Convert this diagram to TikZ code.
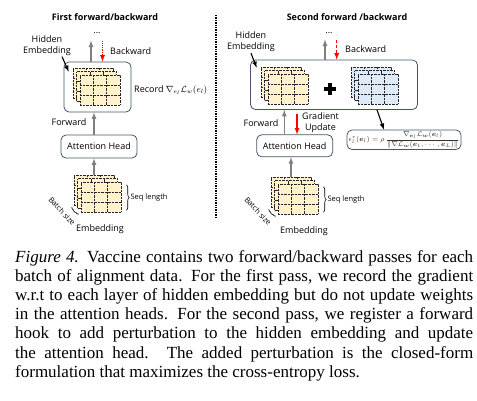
\documentclass[tikz,border=0pt]{standalone}
\usepackage{amsmath, amssymb}
\usepackage[no-math]{fontspec}
\setmainfont{Open Sans}
\newfontfamily\capfont{Liberation Serif}
\usetikzlibrary{arrows}
\usetikzlibrary{calc}
\usetikzlibrary{decorations.pathreplacing}

\definecolor{boxline}{HTML}{44546A}
\definecolor{layeryel}{HTML}{FFF2CC}
\definecolor{layerblue}{HTML}{DEEBF7}
\definecolor{arrowgray}{HTML}{7F7F7F}

\tikzset{
  lbl/.style={font=\fontsize{9}{11}\selectfont, align=center, inner sep=1pt},
  ttl/.style={font=\fontsize{9}{11}\selectfont\bfseries, inner sep=1pt},
  small/.style={font=\fontsize{7.5}{9}\selectfont, inner sep=1pt},
  block/.style={draw=boxline, rounded corners=5pt, line width=0.8pt, inner sep=0pt},
  celldots/.style={line width=0.55pt, dash pattern=on 0.7pt off 0.7pt},
  gridcells/.style={path picture={
      \foreach \t in {0.333,0.667} {
        \draw[celldots]
          ($(path picture bounding box.north west)!\t!(path picture bounding box.north east)$) --
          ($(path picture bounding box.south west)!\t!(path picture bounding box.south east)$)
          ($(path picture bounding box.north west)!\t!(path picture bounding box.south west)$) --
          ($(path picture bounding box.north east)!\t!(path picture bounding box.south east)$);
      }}},
  layer/.style={draw=black!85, celldots, minimum width=40pt,
    minimum height=30pt, inner sep=0pt, gridcells},
  fwd/.style={->, draw=arrowgray, line width=1.2pt},
  bwd/.style={->, draw=red, line width=1.2pt},
  ptr/.style={->, line width=1.1pt},
  brace/.style={decorate, decoration={brace, amplitude=3pt}, line width=0.6pt},
  divider/.style={densely dotted, line width=1.4pt},
}

% three stacked layers: name, centre of front layer, fill
\newcommand{\embstack}[3]{%
  \foreach \d/\k in {7/a,3.5/b,0/c}
    \node[layer, fill=#3] (#1\k) at ($(#2)+(-\d,-\d)$) {};
}

\begin{document}
\begin{tikzpicture}[x=1pt, y=-1pt, >=latex]
\useasboundingbox (0,0) rectangle (477,400);

% first pass
\node[ttl] (titleL) at (105,17) {First forward/backward};
\node[lbl] (dotsL) at (97,33) {...};
\node[lbl] (hidlabL) at (47,45.5) {Hidden\\Embedding};
\node[lbl, anchor=west] (backL) at (109,51) {Backward};
\node[block, minimum width=67pt, minimum height=50pt] (hidL) at (97.5,87) {};
\embstack{lh}{100,90}{layeryel}
\node[lbl, anchor=west] (recL) at (133,90) {Record $\nabla_{e_l}\mathcal{L}_w(e_l)$};
\node[lbl] (fwdL) at (69,122.5) {Forward};
\node[block, lbl, minimum width=76pt, minimum height=23pt] (attL) at (99,146.5) {Attention Head};
\embstack{le}{101,197}{layeryel}
\node[lbl] (embL) at (100,229) {Embedding};
\node[small, rotate=-47] (batchL) at (62,211) {Batch size};

\draw[fwd] ([xshift=-6.5pt]hidL.north) -- ++(0,-21);
\draw[bwd, densely dotted] ([xshift=5pt]hidL.north) ++(0,-21) -- ([xshift=5pt]hidL.north);
\draw[ptr] ($(hidlabL.south)!0.6!(hidlabL.south east)$) -- ([shift={(-4,4)}]lha.north west);
\draw[fwd] ([xshift=-5pt]attL.north) -- ([xshift=-5pt]attL.north |- hidL.south);
\draw[fwd] (lea.north) -- (lea.north |- attL.south);
\draw[brace] ([xshift=5pt,yshift=-3pt]lec.north east) -- ([xshift=5pt,yshift=2pt]lec.south east)
  node[midway, right=3pt, small] (seqL) {Seq length};
\draw[brace, decoration={amplitude=1.5pt}] ([shift={(-2,2)}]lec.south west) -- ([shift={(-2,2)}]lea.south west);

% divider
\draw[divider] (216,15) -- (216,218);

% second pass
\node[ttl] (titleR) at (347,17) {Second forward /backward};
\node[lbl] (dotsR) at (329,33) {...};
\node[lbl] (hidlabR) at (251,42) {Hidden\\Embedding};
\node[lbl, anchor=west] (backR) at (344,49) {Backward};
\node[block, minimum width=167pt, minimum height=49.5pt] (hidR) at (334,84.75) {};
\embstack{rh}{288,89}{layeryel}
\embstack{rb}{378,89}{layerblue}
\node[inner sep=0pt, minimum size=12pt] (plusR) at (330,89) {};
\draw[line width=3.6pt] (plusR.west) -- (plusR.east) (plusR.north) -- (plusR.south);
\node[block, minimum width=114pt, minimum height=19.5pt, text=black!80,
  font=\fontsize{7}{8}\selectfont] (formula) at (404,139.75)
  {$\epsilon^{*}_{l}(\boldsymbol{e}_l)=\rho\,\dfrac{\nabla_{\boldsymbol{e}_l}\mathcal{L}_{\boldsymbol{w}}(\boldsymbol{e}_l)}{\|\nabla\mathcal{L}_{\boldsymbol{w}}(\boldsymbol{e}_1,\cdots,\boldsymbol{e}_L)\|}$};
\node[lbl] (fwdR) at (261,123) {Forward};
\node[lbl] (gradR) at (320.5,122.5) {Gradient\\Update};
\node[block, lbl, minimum width=76pt, minimum height=22pt] (attR) at (294.7,145.8) {Attention Head};
\embstack{re}{298,199}{layeryel}
\node[lbl] (embR) at (304,231) {Embedding};
\node[small, rotate=-47] (batchR) at (258,211) {Batch size};

\draw[fwd] ([xshift=-9pt]hidR.north) -- ++(0,-20);
\draw[bwd, densely dashed] ([xshift=2.7pt]hidR.north) ++(0,-20) -- ([xshift=2.7pt]hidR.north);
\draw[ptr] (hidlabR.south) -- ([shift={(-4,1)}]rha.north west);
\draw[ptr] ([xshift=43pt]hidR.south) -- ([xshift=-20pt]formula.north);
\draw[fwd] ([xshift=-10.4pt]attR.north) -- ([xshift=-10.4pt]attR.north |- hidR.south);
\draw[bwd] ([xshift=2.3pt]attR.north) ++(0,-20) -- ([xshift=2.3pt]attR.north);
\draw[fwd] (rea.north) -- (rea.north |- attR.south);
\draw[brace] ([xshift=5pt,yshift=-3pt]rec.north east) -- ([xshift=5pt,yshift=2pt]rec.south east)
  node[midway, right=3pt, small] (seqR) {Seq length};
\draw[brace, decoration={amplitude=1.5pt}] ([shift={(-2,2)}]rec.south west) -- ([shift={(-2,2)}]rea.south west);

% caption
\node[anchor=base west, text width=458pt, inner sep=0pt, align=justify,
  font=\capfont\fontsize{17}{19.2}\selectfont] (caption) at (15,262)
  {\textit{Figure 4.} Vaccine contains two forward/backward passes for each\linebreak
   batch of alignment data. For the first pass, we record the gradient\linebreak
   w.r.t to each layer of hidden embedding but do not update weights\linebreak
   in the attention heads. For the second pass, we register a forward\linebreak
   hook to add perturbation to the hidden embedding and update\linebreak
   the attention head.  The added perturbation is the closed-form\linebreak
   formulation that maximizes the cross-entropy loss.};
\end{tikzpicture}
\end{document}
